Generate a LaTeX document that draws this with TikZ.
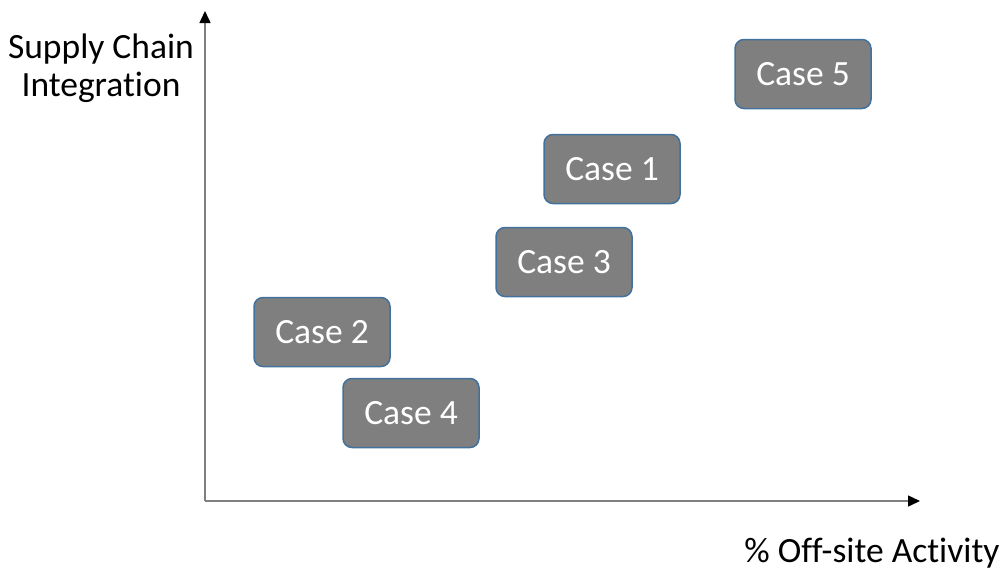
\documentclass[tikz,border=0pt]{standalone}
\usepackage{fontspec}
\setmainfont[Ligatures={NoCommon}]{Carlito}
\usetikzlibrary{arrows.meta}
\definecolor{boxfill}{HTML}{7F7F7F}
\definecolor{boxline}{HTML}{41719C}
\definecolor{axis}{HTML}{7F7F7F}
\tikzset{
  casebox/.style={draw=boxline, line width=1.5pt, fill=boxfill, rounded corners=9pt,
    minimum width=136pt, minimum height=69pt, inner sep=0pt,
    text=white, font=\fontsize{35.5}{40}\selectfont},
  axisline/.style={draw=axis, line width=1.5pt, -{Triangle[length=12pt,width=11pt,fill=black,color=black]}},
  label/.style={font=\fontsize{35.5}{38}\selectfont, text=black, inner sep=0pt}
}
\begin{document}
\begin{tikzpicture}[x=1pt,y=-1pt]
\useasboundingbox (0,0) rectangle (1004,582);
\coordinate (O) at (205,501);
\coordinate (ytop) at (205,11);
\coordinate (xend) at (920,501);
\draw[axisline] (O) -- (ytop);
\draw[axisline] (O) -- (xend);
\node[casebox] (c5) at (803,74) {Case 5};
\node[casebox] (c1) at (612,169) {Case 1};
\node[casebox] (c3) at (564,262) {Case 3};
\node[casebox] (c2) at (322,332) {Case 2};
\node[casebox] (c4) at (411,413) {Case 4};
\node[label, align=center] (ylab) at (101,68) {Supply Chain\\Integration};
\node[label] (xlab) at (872,553) {\% Off-site Activity};
\end{tikzpicture}
\end{document}
